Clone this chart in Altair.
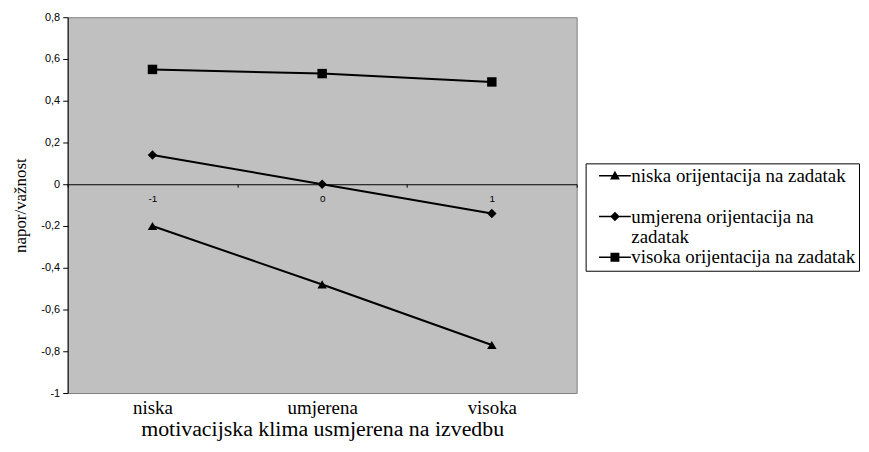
import altair as alt
import pandas as pd

# ---- data ----
categories = ["niska", "umjerena", "visoka"]
cat_codes = [-1, 0, 1]
series_names = [
    "niska orijentacija na zadatak",
    "umjerena orijentacija na zadatak",
    "visoka orijentacija na zadatak",
]
niska_vals = [-0.20, -0.48, -0.77]
umjerena_vals = [0.14, 0.00, -0.14]
visoka_vals = [0.55, 0.53, 0.49]
y_tick_values = [-1, -0.8, -0.6, -0.4, -0.2, 0, 0.2, 0.4, 0.6, 0.8]
zero_axis_values = [-1.5, -1, -0.5, 0, 0.5, 1, 1.5]

series_values = [niska_vals, umjerena_vals, visoka_vals]
marker_shapes = ["triangle-up", "diamond", "square"]
legend_paths = [
    "M-2,-0.1H2V0.1H-2ZM-0.62,0.46L0,-0.62L0.62,0.46Z",
    "M-2,-0.1H2V0.1H-2ZM-0.6,0L0,-0.6L0.6,0L0,0.6Z",
    "M-2,-0.1H2V0.1H-2ZM-0.56,-0.56H0.56V0.56H-0.56Z",
]

rows = []
for name, vals in zip(series_names, series_values):
    for cat, code, v in zip(categories, cat_codes, vals):
        rows.append({"series": name, "category": cat, "code": code, "value": v})
df = pd.DataFrame(rows)

SERIF = "Liberation Serif, Times New Roman, serif"
SANS = "Liberation Sans, Arial, sans-serif"

cat_expr = " : ".join(
    [f"datum.value == {c} ? '{n}'" for c, n in zip(cat_codes, categories)]
) + " : ''"

xscale = alt.Scale(domain=[-1.5, 1.5], nice=False, zero=False)
y_enc = alt.Y(
    "value:Q",
    scale=alt.Scale(domain=[-1, 0.8], nice=False, zero=False),
    title="napor/važnost",
    axis=alt.Axis(
        values=y_tick_values,
        labelExpr="replace(toString(datum.value), '.', ',')",
        labelFont=SANS,
        labelFontSize=11,
        labelColor="black",
        labelPadding=3,
        tickColor="black",
        tickSize=5,
        domainColor="black",
        domainWidth=1,
        grid=False,
        titleFont=SERIF,
        titleFontSize=17,
        titleFontWeight="normal",
        titleColor="black",
        titlePadding=11,
    ),
)

base = alt.Chart(df)

# zero line axis with -1, 0, 1 labels
zero_layer = base.mark_point(opacity=0).encode(
    x=alt.X(
        "code:Q",
        scale=xscale,
        title=None,
        axis=alt.Axis(
            orient="bottom",
            offset=-210,
            values=zero_axis_values,
            labelExpr="datum.value % 1 == 0 ? toString(datum.value) : ''",
            labelFont=SANS,
            labelFontSize=10,
            labelColor="black",
            labelPadding=6,
            labelOverlap=False,
            labelFlush=False,
            tickSize=3,
            tickColor={"condition": {"test": "datum.value % 1 != 0", "value": "black"}, "value": "transparent"},
            domainColor="black",
            domainWidth=1,
            grid=False,
        ),
    ),
    y=y_enc,
)

lines = base.mark_line(color="black", strokeWidth=2).encode(
    x=alt.X(
        "code:Q",
        scale=xscale,
        title="motivacijska klima usmjerena na izvedbu",
        axis=alt.Axis(
            orient="bottom",
            values=cat_codes,
            labelExpr=cat_expr,
            labelFont=SERIF,
            labelFontSize=19,
            labelColor="black",
            labelPadding=6,
            ticks=False,
            tickSize=0,
            domain=False,
            grid=False,
            titleFont=SERIF,
            titleFontSize=22,
            titleFontWeight="normal",
            titleColor="black",
            titlePadding=1,
        ),
    ),
    y=y_enc,
    detail="series:N",
)

points = base.mark_point(filled=True, color="black", opacity=1, size=90).encode(
    x=alt.X("code:Q", scale=xscale, axis=None),
    y=y_enc,
    shape=alt.Shape(
        "series:N",
        scale=alt.Scale(domain=series_names, range=marker_shapes),
        legend=None,
    ),
)

legend_label_expr = (
    f"datum.label == '{series_names[1]}' ? ['umjerena orijentacija na', 'zadatak'] : "
    f"datum.label == '{series_names[0]}' ? [datum.label, ''] : datum.label"
)

legend_layer = base.transform_filter("false").mark_point(
    filled=True, fill="black", opacity=1, size=256
).encode(
    y=y_enc,
    shape=alt.Shape(
        "series:N",
        scale=alt.Scale(domain=series_names, range=legend_paths),
        legend=alt.Legend(
            title=None,
            orient="none",
            legendX=521,
            legendY=147,
            padding=3,
            strokeColor="black",
            fillColor="white",
            cornerRadius=0,
            symbolSize=256,
            symbolOffset=17,
            symbolFillColor="black",
            symbolStrokeWidth=0,
            symbolOpacity=1,
            labelFont=SERIF,
            labelFontSize=19,
            labelColor="black",
            labelLimit=400,
            labelOffset=7,
            labelExpr=legend_label_expr,
            rowPadding=-14,
        ),
    ),
)

chart = (
    alt.layer(zero_layer, lines, points, legend_layer)
    .resolve_scale(shape="independent")
    .resolve_axis(x="independent")
    .properties(
        width=512,
        height=378,
        autosize=alt.AutoSizeParams(type="none"),
        padding={"left": 60, "top": 8, "right": 286, "bottom": 50},
        background="white",
    )
    .configure_view(fill="#C0C0C0", stroke="#808080", strokeWidth=1)
)

chart.save("out.html", embed_options={"renderer": "svg", "actions": False})
